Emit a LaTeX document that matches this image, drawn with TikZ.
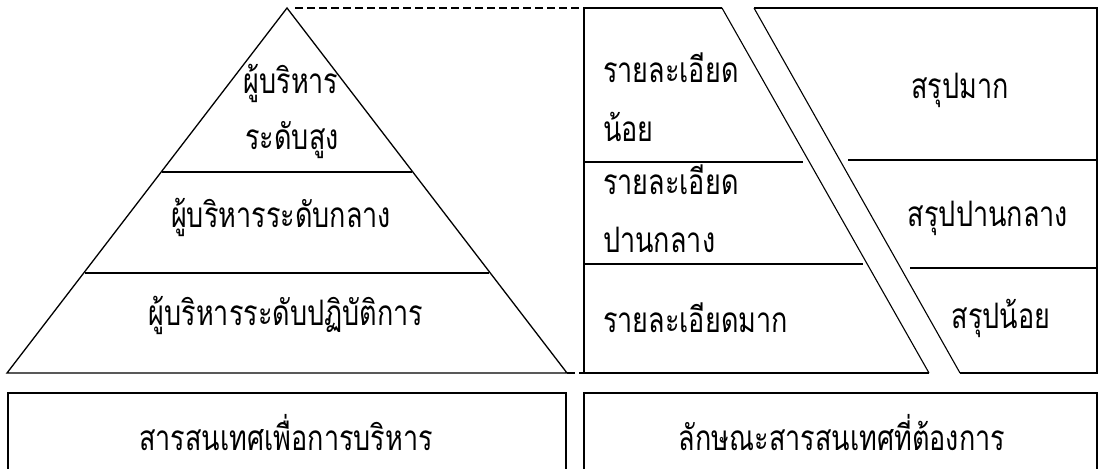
\documentclass[tikz,border=0pt]{standalone}
\usepackage{fontspec}
\usepackage{graphicx}
\newfontfamily\thaifont[Script=Thai]{Loma}
\newcommand{\tall}[1]{\scalebox{1}[1.3]{#1}}
\begin{document}
\begin{tikzpicture}[x=1pt,y=-1pt,
  shape line/.style={draw=black,line width=1.3pt,line join=miter},
  thin line/.style={draw=black,line width=1.1pt},
  guide/.style={draw=black,line width=1.1pt,dash pattern=on 8pt off 4pt},
  lbl/.style={inner sep=0pt,font=\thaifont\fontsize{27}{30}\selectfont}]
\useasboundingbox (0,0) rectangle (1099,468);
% pyramid
\coordinate (apex) at (287,8);
\coordinate (bl) at (7,373);
\coordinate (br) at (567,373);
\coordinate (l1a) at (162,172);
\coordinate (l1b) at (412,172);
\coordinate (l2a) at (85,273);
\coordinate (l2b) at (489,273);
\path[shape line] (apex) -- (br) -- (bl) -- cycle;
\path[shape line] (l1a) -- (l1b);
\path[shape line] (l2a) -- (l2b);
% left trapezoid of right part
\coordinate (ta) at (584,8);
\coordinate (tb) at (722,8);
\coordinate (tc) at (929,373);
\coordinate (td) at (584,373);
\path[shape line] (tc) -- (td) -- (ta) -- (tb);
\path[thin line] (tb) -- (tc);
\coordinate (m1a) at (584,162);
\coordinate (m1b) at (803,162);
\coordinate (m2a) at (584,264);
\coordinate (m2b) at (863,264);
\path[shape line] (m1a) -- (m1b);
\path[shape line] (m2a) -- (m2b);
% right shape
\coordinate (ra) at (754,8);
\coordinate (rb) at (1097,8);
\coordinate (rc) at (1097,373);
\coordinate (rd) at (960,373);
\path[shape line] (ra) -- (rb) -- (rc) -- (rd);
\path[thin line] (rd) -- (ra);
\coordinate (n1a) at (848,160);
\coordinate (n1b) at (1097,160);
\coordinate (n2a) at (910,268);
\coordinate (n2b) at (1097,268);
\path[shape line] (n1a) -- (n1b);
\path[shape line] (n2a) -- (n2b);
% dashed guides
\coordinate (dstart) at (295,8);
\path[guide] (dstart) -- (ta);
\coordinate (dend) at (603,373);
\path[guide] (br) -- (dend);
% bottom boxes
\coordinate (b1a) at (8,476);
\coordinate (b1b) at (566,393);
\coordinate (b2a) at (584,476);
\coordinate (b2b) at (1097,393);
\path[shape line] (b1a) -- (8,393) -- (b1b) -- (566,476);
\path[shape line] (b2a) -- (584,393) -- (b2b) -- (1097,476);
% labels
\node[lbl] (p1) at (291,83) {\tall{ผู้บริหาร}};
\node[lbl] (p2) at (292,140) {\tall{ระดับสูง}};
\node[lbl] (p3) at (281,217) {\tall{ผู้บริหารระดับกลาง}};
\node[lbl] (p4) at (286,315) {\tall{ผู้บริหารระดับปฏิบัติการ}};
\node[lbl] (t1) at (286,433) {\tall{สารสนเทศเพื่อการบริหาร}};
\node[lbl,anchor=west] (d1) at (603,68) {\tall{รายละเอียด}};
\node[lbl,anchor=west] (d2) at (603,127) {\tall{น้อย}};
\node[lbl,anchor=west] (d3) at (603,180) {\tall{รายละเอียด}};
\node[lbl,anchor=west] (d4) at (603,240) {\tall{ปานกลาง}};
\node[lbl,anchor=west] (d5) at (603,318) {\tall{รายละเอียดมาก}};
\node[lbl] (s1) at (960,90) {\tall{สรุปมาก}};
\node[lbl] (s2) at (988,218) {\tall{สรุปปานกลาง}};
\node[lbl] (s3) at (1001,318) {\tall{สรุปน้อย}};
\node[lbl] (t2) at (842,433) {\tall{ลักษณะสารสนเทศที่ต้องการ}};
\end{tikzpicture}
\end{document}
